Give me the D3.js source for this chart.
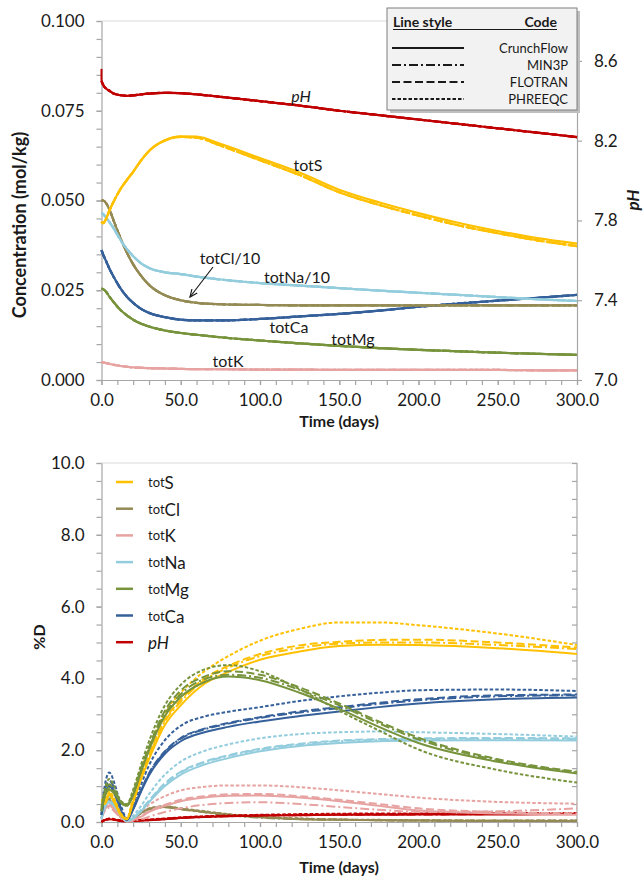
<!DOCTYPE html>
<html>
<head>
<meta charset="utf-8">
<script src="https://cdn.jsdelivr.net/npm/d3@7"></script>
<style>
  body { margin: 0; background: #fff; }
  svg { display: block; }
  text { font-family: Lato, "Open Sans", sans-serif; fill: #1a1a1a; }
</style>
</head>
<body>
<svg id="chart" width="644" height="883"></svg>
<script>
// ---------- Concentration panel data (time in days) ----------
const concDays = [0, 1, 3, 5, 8, 12, 16, 20, 25, 30, 40, 50, 60, 75, 100, 125, 150, 175, 200, 225, 250, 275, 300];
const concPH   = [8.500, 8.480, 8.460, 8.450, 8.435, 8.428, 8.425, 8.427, 8.432, 8.436, 8.440, 8.438, 8.432, 8.420, 8.398, 8.376, 8.350, 8.328, 8.306, 8.284, 8.262, 8.240, 8.218];
const pHInitialSpike = [8.50, 8.56];
const concS    = [0.0441, 0.0437, 0.0450, 0.0472, 0.0500, 0.0532, 0.0557, 0.0580, 0.0612, 0.0638, 0.0668, 0.0679, 0.0678, 0.0658, 0.0618, 0.0578, 0.0530, 0.0495, 0.0465, 0.0438, 0.0415, 0.0395, 0.0380];
const concSAlt = [0.0441, 0.0437, 0.0450, 0.0472, 0.0500, 0.0532, 0.0557, 0.0580, 0.0612, 0.0638, 0.0667, 0.0677, 0.0675, 0.0653, 0.0612, 0.0571, 0.0523, 0.0488, 0.0458, 0.0431, 0.0409, 0.0389, 0.0373];
const concCl10 = [0.0500, 0.0500, 0.0492, 0.0475, 0.0440, 0.0395, 0.0355, 0.0322, 0.0290, 0.0265, 0.0236, 0.0222, 0.0215, 0.0211, 0.0209, 0.0208, 0.0208, 0.0208, 0.0208, 0.0208, 0.0208, 0.0208, 0.0208];
const concNa10 = [0.0466, 0.0462, 0.0452, 0.0440, 0.0420, 0.0390, 0.0365, 0.0345, 0.0325, 0.0312, 0.0300, 0.0295, 0.0288, 0.0280, 0.0270, 0.0263, 0.0256, 0.0249, 0.0243, 0.0237, 0.0231, 0.0225, 0.0220];
const concCa   = [0.0362, 0.0350, 0.0330, 0.0310, 0.0285, 0.0255, 0.0232, 0.0215, 0.0198, 0.0187, 0.0175, 0.0168, 0.0166, 0.0166, 0.0170, 0.0177, 0.0184, 0.0193, 0.0204, 0.0213, 0.0221, 0.0229, 0.0237];
const concMg   = [0.0255, 0.0253, 0.0245, 0.0232, 0.0215, 0.0195, 0.0180, 0.0168, 0.0157, 0.0149, 0.0138, 0.0131, 0.0126, 0.0119, 0.0110, 0.0102, 0.0095, 0.0089, 0.0084, 0.0080, 0.0076, 0.0073, 0.0070];
const concK    = [0.0050, 0.0049, 0.0047, 0.0045, 0.0042, 0.0039, 0.0037, 0.0035, 0.0034, 0.0033, 0.0032, 0.0031, 0.0030, 0.0030, 0.0029, 0.0029, 0.0028, 0.0028, 0.0028, 0.0028, 0.0028, 0.0027, 0.0027];

// ---------- %D panel data (time in days) ----------
const devDays = [0, 2, 5, 8, 12, 16, 20, 25, 30, 40, 50, 65, 80, 100, 125, 150, 175, 200, 250, 300];
const devS_CF   = [0.60, 0.50, 0.75, 0.55, 0.20, 0.08, 0.55, 1.20, 1.75, 2.70, 3.25, 3.85, 4.18, 4.52, 4.75, 4.90, 4.94, 4.93, 4.84, 4.68];
const devS_M3   = [0.60, 0.52, 0.78, 0.58, 0.22, 0.08, 0.58, 1.25, 1.82, 2.80, 3.35, 3.95, 4.30, 4.62, 4.85, 4.97, 5.00, 5.00, 4.93, 4.82];
const devS_FT   = [0.60, 0.55, 0.80, 0.60, 0.22, 0.08, 0.60, 1.28, 1.86, 2.85, 3.40, 4.00, 4.35, 4.68, 4.92, 5.02, 5.07, 5.08, 5.00, 4.86];
const devS_PQ   = [0.65, 0.60, 0.85, 0.65, 0.25, 0.10, 0.70, 1.45, 2.05, 3.05, 3.60, 4.20, 4.62, 5.05, 5.38, 5.56, 5.56, 5.48, 5.25, 4.93];
const devCl_CF  = [0.20, 0.50, 0.60, 0.45, 0.15, 0.02, 0.10, 0.25, 0.36, 0.42, 0.36, 0.28, 0.20, 0.13, 0.08, 0.06, 0.05, 0.04, 0.03, 0.03];
const devCl_M3  = [0.20, 0.48, 0.58, 0.43, 0.14, 0.02, 0.10, 0.24, 0.35, 0.41, 0.35, 0.27, 0.19, 0.12, 0.08, 0.06, 0.05, 0.04, 0.03, 0.03];
const devCl_FT  = [0.20, 0.52, 0.62, 0.46, 0.16, 0.02, 0.11, 0.26, 0.37, 0.43, 0.37, 0.29, 0.21, 0.14, 0.09, 0.07, 0.05, 0.04, 0.04, 0.04];
const devCl_PQ  = [0.22, 0.55, 0.66, 0.48, 0.16, 0.03, 0.12, 0.27, 0.38, 0.44, 0.38, 0.30, 0.22, 0.15, 0.10, 0.07, 0.06, 0.05, 0.04, 0.04];
const devK_CF   = [0.10, 0.35, 0.45, 0.35, 0.15, 0.02, 0.05, 0.15, 0.28, 0.45, 0.58, 0.68, 0.73, 0.74, 0.68, 0.58, 0.45, 0.32, 0.24, 0.20];
const devK_M3   = [0.10, 0.30, 0.40, 0.30, 0.12, 0.02, 0.03, 0.08, 0.15, 0.28, 0.38, 0.48, 0.53, 0.55, 0.50, 0.42, 0.34, 0.28, 0.30, 0.38];
const devK_FT   = [0.10, 0.36, 0.47, 0.37, 0.16, 0.02, 0.06, 0.17, 0.30, 0.48, 0.62, 0.72, 0.77, 0.78, 0.72, 0.62, 0.50, 0.38, 0.28, 0.24];
const devK_PQ   = [0.12, 0.40, 0.50, 0.40, 0.18, 0.03, 0.10, 0.30, 0.48, 0.72, 0.88, 0.98, 1.02, 1.02, 0.97, 0.88, 0.78, 0.68, 0.56, 0.51];
const devNa_CF  = [0.10, 0.40, 0.55, 0.45, 0.20, 0.02, 0.10, 0.30, 0.55, 1.00, 1.32, 1.60, 1.78, 1.97, 2.12, 2.20, 2.25, 2.27, 2.28, 2.27];
const devNa_M3  = [0.10, 0.42, 0.57, 0.46, 0.20, 0.02, 0.11, 0.32, 0.58, 1.05, 1.38, 1.66, 1.84, 2.02, 2.16, 2.25, 2.29, 2.31, 2.32, 2.31];
const devNa_FT  = [0.10, 0.43, 0.58, 0.47, 0.21, 0.02, 0.12, 0.34, 0.60, 1.08, 1.40, 1.68, 1.86, 2.04, 2.18, 2.27, 2.31, 2.33, 2.34, 2.33];
const devNa_PQ  = [0.10, 0.50, 0.70, 0.55, 0.25, 0.03, 0.18, 0.45, 0.78, 1.32, 1.68, 1.98, 2.16, 2.33, 2.45, 2.50, 2.52, 2.50, 2.45, 2.38];
const devMg_CF  = [0.30, 0.70, 0.90, 0.80, 0.55, 0.45, 0.75, 1.40, 2.00, 2.95, 3.48, 3.90, 4.05, 3.95, 3.60, 3.15, 2.65, 2.20, 1.68, 1.35];
const devMg_M3  = [0.30, 0.75, 0.95, 0.82, 0.55, 0.45, 0.78, 1.45, 2.05, 3.00, 3.56, 3.98, 4.10, 4.02, 3.68, 3.25, 2.75, 2.30, 1.72, 1.38];
const devMg_FT  = [0.35, 0.80, 1.05, 0.90, 0.58, 0.48, 0.82, 1.50, 2.10, 3.10, 3.66, 4.05, 4.20, 4.10, 3.75, 3.30, 2.80, 2.35, 1.75, 1.40];
const devMg_PQ  = [0.40, 0.90, 1.20, 1.00, 0.60, 0.50, 0.90, 1.60, 2.25, 3.25, 3.82, 4.25, 4.37, 4.20, 3.70, 3.10, 2.55, 2.02, 1.45, 1.10];
const devCa_CF  = [0.20, 0.70, 1.00, 0.80, 0.35, 0.05, 0.35, 0.85, 1.30, 1.90, 2.25, 2.50, 2.65, 2.80, 2.95, 3.08, 3.20, 3.30, 3.42, 3.47];
const devCa_M3  = [0.20, 0.75, 1.05, 0.85, 0.38, 0.06, 0.37, 0.88, 1.34, 1.95, 2.32, 2.58, 2.74, 2.90, 3.05, 3.17, 3.29, 3.39, 3.50, 3.53];
const devCa_FT  = [0.25, 0.85, 1.15, 0.95, 0.42, 0.07, 0.38, 0.90, 1.36, 1.97, 2.34, 2.60, 2.76, 2.92, 3.08, 3.20, 3.32, 3.42, 3.53, 3.55];
const devCa_PQ  = [0.30, 1.00, 1.38, 1.10, 0.50, 0.10, 0.48, 1.05, 1.58, 2.28, 2.68, 2.94, 3.07, 3.20, 3.37, 3.50, 3.60, 3.67, 3.69, 3.65];
const devPH_CF  = [0.00, 0.05, 0.08, 0.06, 0.03, 0.02, 0.03, 0.04, 0.05, 0.08, 0.11, 0.14, 0.16, 0.18, 0.19, 0.20, 0.20, 0.21, 0.21, 0.22];
const devPH_M3  = [0.00, 0.05, 0.08, 0.06, 0.03, 0.02, 0.03, 0.04, 0.05, 0.08, 0.11, 0.14, 0.16, 0.18, 0.19, 0.20, 0.21, 0.21, 0.22, 0.22];
const devPH_FT  = [0.00, 0.05, 0.09, 0.07, 0.04, 0.03, 0.04, 0.05, 0.06, 0.09, 0.12, 0.15, 0.17, 0.19, 0.20, 0.21, 0.22, 0.22, 0.23, 0.23];
const devPH_PQ  = [0.02, 0.06, 0.10, 0.08, 0.05, 0.04, 0.05, 0.06, 0.07, 0.10, 0.13, 0.16, 0.18, 0.20, 0.22, 0.23, 0.24, 0.24, 0.25, 0.25];

// ---------- Tick labels ----------
const timeTicks = [0, 50, 100, 150, 200, 250, 300];
const concTicks = [0, 0.025, 0.05, 0.075, 0.1];
const pHTicks = [7.0, 7.4, 7.8, 8.2, 8.6];
const devTicks = [0, 2, 4, 6, 8, 10];
const codeNames = ["CrunchFlow", "MIN3P", "FLOTRAN", "PHREEQC"];

// ---------- Styling ----------
const colors = {
  pH: "#C00000", S: "#FFC000", Cl: "#948A54", K: "#E6A3A1",
  Na: "#93CDDD", Mg: "#77933C", Ca: "#35609A"
};
const codeDash = [null, "9,3,2,3", "8,3.5", "3.5,2"];
const axisColor = "#A6A6A6";
const frameColor = "#D9D9D9";

const svg = d3.select("#chart");

// Scales
const xTop = d3.scaleLinear().domain([0, 300]).range([101.5, 577]);
const yConc = d3.scaleLinear().domain([0, 0.1]).range([380, 21]);
const yPH = d3.scaleLinear().domain([7.0, 8.8]).range([380, 21]);
const xBot = d3.scaleLinear().domain([0, 300]).range([101.5, 577]);
const yDev = d3.scaleLinear().domain([0, 10]).range([822, 463]);

function styleAxis(g) {
  g.select(".domain").attr("stroke", axisColor).attr("stroke-width", 1.2);
  g.selectAll(".tick line").attr("stroke", axisColor).attr("stroke-width", 1.2);
  g.selectAll(".tick text").style("font-size", "17px").attr("fill", "#1a1a1a");
}
function minorTicks(g) {
  g.select(".domain").remove();
  g.selectAll(".tick text").remove();
  g.selectAll(".tick line").attr("stroke", axisColor).attr("stroke-width", 1.2);
}

// ===================== Upper panel: concentrations =====================
const concG = svg.append("g");

// plot-area top edge
concG.append("line").attr("x1", xTop(0)).attr("x2", xTop(300)).attr("y1", yConc(0.1)).attr("y2", yConc(0.1))
  .attr("stroke", frameColor).attr("stroke-width", 1);

// minor ticks
concG.append("g").attr("transform", "translate(0,380)")
  .call(d3.axisBottom(xTop).tickValues(d3.range(0, 301, 10)).tickSize(5).tickFormat("")).call(minorTicks);
concG.append("g").attr("transform", "translate(101.5,0)")
  .call(d3.axisLeft(yConc).tickValues(d3.range(0, 0.1001, 0.005)).tickSize(5).tickFormat("")).call(minorTicks);

concG.append("g").attr("transform", "translate(0,380)")
  .call(d3.axisBottom(xTop).tickValues(timeTicks).tickFormat(d3.format(".1f")).tickSize(5).tickPadding(9).tickSizeOuter(0))
  .call(styleAxis);
concG.append("g").attr("transform", "translate(101.5,0)")
  .call(d3.axisLeft(yConc).tickValues(concTicks).tickFormat(d3.format(".3f")).tickSize(5).tickPadding(12).tickSizeOuter(0))
  .call(styleAxis);
concG.append("g").attr("transform", "translate(577,0)")
  .call(d3.axisRight(yPH).tickValues(pHTicks).tickFormat(d3.format(".1f")).tickSize(5).tickPadding(12).tickSizeOuter(0))
  .call(styleAxis);

const concLine = y => d3.line()
  .x((d, i) => xTop(concDays[i]))
  .y(d => y(d))
  .curve(d3.curveMonotoneX);

const concSeries = [
  { color: colors.K,  y: yConc, runs: [concK, concK, concK, concK] },
  { color: colors.Mg, y: yConc, runs: [concMg, concMg, concMg, concMg] },
  { color: colors.Ca, y: yConc, runs: [concCa, concCa, concCa, concCa] },
  { color: colors.Cl, y: yConc, runs: [concCl10, concCl10, concCl10, concCl10] },
  { color: colors.Na, y: yConc, runs: [concNa10, concNa10, concNa10, concNa10] },
  { color: colors.S,  y: yConc, runs: [concS, concSAlt, concSAlt, concSAlt] },
  { color: colors.pH, y: yPH,   runs: [concPH, concPH, concPH, concPH] }
];
concSeries.forEach(s => {
  s.runs.forEach((vals, ci) => {
    concG.append("path")
      .attr("d", concLine(s.y)(vals))
      .attr("fill", "none")
      .attr("stroke", s.color)
      .attr("stroke-width", 2.2)
      .attr("stroke-dasharray", codeDash[ci]);
  });
});
// initial pH transient at t = 0
concG.append("line")
  .attr("x1", xTop(0)).attr("x2", xTop(0))
  .attr("y1", yPH(pHInitialSpike[0])).attr("y2", yPH(pHInitialSpike[1]))
  .attr("stroke", colors.pH).attr("stroke-width", 2);

// curve labels
const lbl = (x, y, t, italic) => concG.append("text").attr("x", x).attr("y", y)
  .attr("text-anchor", "middle").attr("dominant-baseline", "central")
  .style("font-size", "16px").style("font-style", italic ? "italic" : "normal").text(t);
lbl(301, 95, "pH", true);
lbl(308, 164, "totS");
lbl(230, 257, "totCl/10");
lbl(297, 276, "totNa/10");
lbl(289, 326, "totCa");
lbl(353, 338, "totMg");
lbl(228, 360, "totK");

// arrow to totCl/10
svg.append("defs").append("marker")
  .attr("id", "arrow").attr("viewBox", "0 0 10 10").attr("refX", 9).attr("refY", 5)
  .attr("markerWidth", 7).attr("markerHeight", 7).attr("orient", "auto")
  .append("path").attr("d", "M0,1 L9,5 L0,9").attr("fill", "none").attr("stroke", "#1a1a1a").attr("stroke-width", 1.4);
concG.append("line")
  .attr("x1", 213).attr("y1", 267).attr("x2", 190).attr("y2", 297)
  .attr("stroke", "#1a1a1a").attr("stroke-width", 1.2).attr("marker-end", "url(#arrow)");

// axis titles
concG.append("text").attr("x", 339).attr("y", 420).attr("text-anchor", "middle").attr("dominant-baseline", "central")
  .style("font-size", "16px").style("font-weight", "bold").text("Time (days)");
concG.append("text").attr("transform", "translate(19,225) rotate(-90)").attr("text-anchor", "middle").attr("dominant-baseline", "central")
  .style("font-size", "18px").style("font-weight", "bold").text("Concentration (mol/kg)");
concG.append("text").attr("transform", "translate(632,200) rotate(-90)").attr("text-anchor", "middle").attr("dominant-baseline", "central")
  .style("font-size", "17px").style("font-weight", "bold").style("font-style", "italic").text("pH");

// line-style key
const key = concG.append("g").attr("transform", "translate(387,8)");
key.append("rect").attr("x", 3).attr("y", 3).attr("width", 190).attr("height", 102).attr("fill", "#BFBFBF");
key.append("rect").attr("x", 0).attr("y", 0).attr("width", 190).attr("height", 102)
  .attr("fill", "#F2F2F2").attr("stroke", "#7F7F7F").attr("stroke-width", 1);
key.append("text").attr("x", 6).attr("y", 13).attr("dominant-baseline", "central")
  .style("font-size", "14px").style("font-weight", "bold").text("Line style");
key.append("text").attr("x", 170).attr("y", 13).attr("text-anchor", "end").attr("dominant-baseline", "central")
  .style("font-size", "14px").style("font-weight", "bold").text("Code");
key.append("line").attr("x1", 6).attr("x2", 170).attr("y1", 21.5).attr("y2", 21.5).attr("stroke", "#1a1a1a").attr("stroke-width", 1);
codeNames.forEach((c, i) => {
  const yy = 40 + i * 17;
  key.append("line").attr("x1", 5).attr("x2", 77).attr("y1", yy).attr("y2", yy)
    .attr("stroke", "#1a1a1a").attr("stroke-width", 1.8).attr("stroke-dasharray", codeDash[i]);
  key.append("text").attr("x", 181).attr("y", yy).attr("text-anchor", "end").attr("dominant-baseline", "central")
    .style("font-size", "13px").text(c);
});

// ===================== Lower panel: %D =====================
const devG = svg.append("g");

// plot-area top edge
devG.append("line").attr("x1", xBot(0)).attr("x2", xBot(300)).attr("y1", yDev(10)).attr("y2", yDev(10))
  .attr("stroke", frameColor).attr("stroke-width", 1);

devG.append("g").attr("transform", "translate(0,822)")
  .call(d3.axisBottom(xBot).tickValues(d3.range(0, 301, 10)).tickSize(5).tickFormat("")).call(minorTicks);
devG.append("g").attr("transform", "translate(101.5,0)")
  .call(d3.axisLeft(yDev).tickValues(d3.range(0, 10.01, 0.5)).tickSize(5).tickFormat("")).call(minorTicks);
devG.append("g").attr("transform", "translate(577,0)")
  .call(d3.axisLeft(yDev).tickValues(d3.range(0, 10.01, 0.5)).tickSize(5).tickFormat("")).call(minorTicks);
devG.append("line").attr("x1", 577).attr("x2", 577).attr("y1", 463).attr("y2", 822)
  .attr("stroke", axisColor).attr("stroke-width", 1.2);

devG.append("g").attr("transform", "translate(0,822)")
  .call(d3.axisBottom(xBot).tickValues(timeTicks).tickFormat(d3.format(".1f")).tickSize(5).tickPadding(9).tickSizeOuter(0))
  .call(styleAxis);
devG.append("g").attr("transform", "translate(101.5,0)")
  .call(d3.axisLeft(yDev).tickValues(devTicks).tickFormat(d3.format(".1f")).tickSize(5).tickPadding(12).tickSizeOuter(0))
  .call(styleAxis);

const devLine = d3.line()
  .x((d, i) => xBot(devDays[i]))
  .y(d => yDev(d))
  .curve(d3.curveMonotoneX);

const devSeries = [
  { color: colors.Cl, runs: [devCl_CF, devCl_M3, devCl_FT, devCl_PQ] },
  { color: colors.pH, runs: [devPH_CF, devPH_M3, devPH_FT, devPH_PQ] },
  { color: colors.K,  runs: [devK_CF, devK_M3, devK_FT, devK_PQ] },
  { color: colors.Na, runs: [devNa_CF, devNa_M3, devNa_FT, devNa_PQ] },
  { color: colors.Ca, runs: [devCa_CF, devCa_M3, devCa_FT, devCa_PQ] },
  { color: colors.S,  runs: [devS_CF, devS_M3, devS_FT, devS_PQ] },
  { color: colors.Mg, runs: [devMg_CF, devMg_M3, devMg_FT, devMg_PQ] }
];
devSeries.forEach(s => {
  s.runs.forEach((vals, ci) => {
    devG.append("path")
      .attr("d", devLine(vals))
      .attr("fill", "none")
      .attr("stroke", s.color)
      .attr("stroke-width", 2)
      .attr("stroke-dasharray", codeDash[ci]);
  });
});

// species key
const species = [
  { sub: "tot", main: "S",  color: colors.S },
  { sub: "tot", main: "Cl", color: colors.Cl },
  { sub: "tot", main: "K",  color: colors.K },
  { sub: "tot", main: "Na", color: colors.Na },
  { sub: "tot", main: "Mg", color: colors.Mg },
  { sub: "tot", main: "Ca", color: colors.Ca },
  { sub: "",    main: "pH", color: colors.pH, italic: true }
];
species.forEach((s, i) => {
  const yy = 482 + i * 26.7;
  devG.append("line").attr("x1", 116).attr("x2", 133).attr("y1", yy).attr("y2", yy)
    .attr("stroke", s.color).attr("stroke-width", 2.5);
  const t = devG.append("text").attr("x", 148).attr("y", yy).attr("dominant-baseline", "central");
  if (s.sub) t.append("tspan").style("font-size", "13px").text(s.sub);
  t.append("tspan").style("font-size", "17px").style("font-style", s.italic ? "italic" : "normal").text(s.main);
});

devG.append("text").attr("x", 339).attr("y", 866).attr("text-anchor", "middle").attr("dominant-baseline", "central")
  .style("font-size", "16px").style("font-weight", "bold").text("Time (days)");
devG.append("text").attr("transform", "translate(38,637) rotate(-90)").attr("text-anchor", "middle").attr("dominant-baseline", "central")
  .style("font-size", "16px").style("font-weight", "bold").text("%D");
</script>
</body>
</html>
